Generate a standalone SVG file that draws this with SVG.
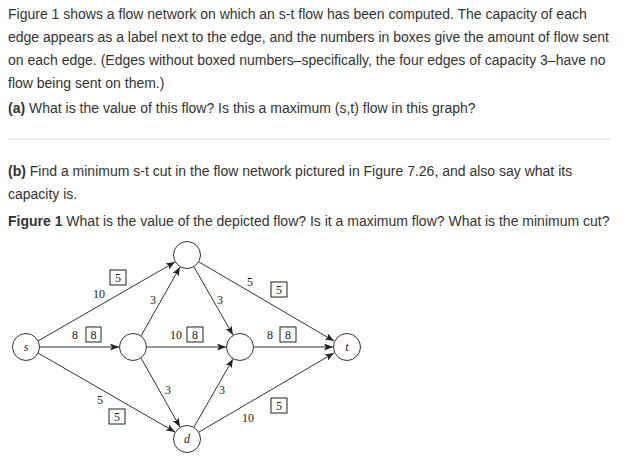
<svg xmlns="http://www.w3.org/2000/svg" width="631" height="459" viewBox="0 0 631 459">
<style>
.p{font-family:"Liberation Sans",Arial,sans-serif;font-size:14px;fill:#333}
.b{font-weight:bold}
.g{font-family:"Liberation Serif","Times New Roman",serif;font-size:12px;fill:#222}
.n{fill:#fff;stroke:#333;stroke-width:1}
.e{stroke:#333;stroke-width:1;fill:none;marker-end:url(#a)}
.bx{fill:#fff;stroke:#222;stroke-width:1}
</style>
<defs><marker id="a" markerWidth="9" markerHeight="7" refX="9" refY="3.5" orient="auto" markerUnits="userSpaceOnUse"><path d="M0,0L9,3.5L0,7L2,3.5z" fill="#222"/></marker></defs>
<rect width="631" height="459" fill="#fff"/>
<g id="text">
<text class="p" x="8" y="19">Figure 1 shows a flow network on which an s-t flow has been computed. The capacity of each</text>
<text class="p" x="8" y="42">edge appears as a label next to the edge, and the numbers in boxes give the amount of flow sent</text>
<text class="p" x="8" y="65">on each edge. (Edges without boxed numbers–specifically, the four edges of capacity 3–have no</text>
<text class="p" x="8" y="88">flow being sent on them.)</text>
<text class="p" x="8" y="113"><tspan class="b">(a)</tspan> What is the value of this flow? Is this a maximum (s,t) flow in this graph?</text>
<line x1="8" y1="139" x2="611" y2="139" stroke="#ddd"/>
<text class="p" x="8" y="176"><tspan class="b">(b)</tspan> Find a minimum s-t cut in the flow network pictured in Figure 7.26, and also say what its</text>
<text class="p" x="8" y="199">capacity is.</text>
<text class="p" x="8" y="226"><tspan class="b">Figure 1</tspan> What is the value of the depicted flow? Is it a maximum flow? What is the minimum cut?</text>
</g>
<g id="connectors">
<line class="e" x1="38" y1="341" x2="175" y2="262"/>
<line class="e" x1="40" y1="347" x2="119" y2="347"/>
<line class="e" x1="38" y1="353" x2="175" y2="432"/>
<line class="e" x1="141" y1="336" x2="180" y2="267"/>
<line class="e" x1="147" y1="347" x2="226" y2="347"/>
<line class="e" x1="141" y1="358" x2="180" y2="427"/>
<line class="e" x1="194" y1="267" x2="233" y2="335"/>
<line class="e" x1="199" y1="262" x2="334" y2="341"/>
<line class="e" x1="254" y1="347" x2="333" y2="347"/>
<line class="e" x1="194" y1="427" x2="233" y2="359"/>
<line class="e" x1="199" y1="432" x2="334" y2="353"/>
</g>
<g id="labels">
<rect class="bx" x="110" y="270" width="16" height="15"/><text class="g" x="118" y="282" text-anchor="middle">5</text>
<text class="g" x="99" y="298" text-anchor="middle">10</text>
<text class="g" x="75" y="339" text-anchor="middle">8</text>
<rect class="bx" x="86" y="327" width="15" height="15"/><text class="g" x="93.5" y="339" text-anchor="middle">8</text>
<text class="g" x="153" y="304" text-anchor="middle">3</text>
<text class="g" x="176" y="339" text-anchor="middle">10</text>
<rect class="bx" x="187" y="327" width="16" height="15"/><text class="g" x="195" y="339" text-anchor="middle">8</text>
<text class="g" x="220" y="304" text-anchor="middle">3</text>
<text class="g" x="250" y="286" text-anchor="middle">5</text>
<rect class="bx" x="271" y="282" width="16" height="15"/><text class="g" x="279" y="294" text-anchor="middle">5</text>
<text class="g" x="270" y="339" text-anchor="middle">8</text>
<rect class="bx" x="280" y="327" width="16" height="15"/><text class="g" x="288" y="339" text-anchor="middle">8</text>
<text class="g" x="168" y="394" text-anchor="middle">3</text>
<text class="g" x="222" y="394" text-anchor="middle">3</text>
<text class="g" x="100" y="404" text-anchor="middle">5</text>
<rect class="bx" x="109" y="409" width="16" height="15"/><text class="g" x="117" y="421" text-anchor="middle">5</text>
<text class="g" x="248" y="422" text-anchor="middle">10</text>
<rect class="bx" x="271" y="398" width="16" height="15"/><text class="g" x="279" y="410" text-anchor="middle">5</text>
</g>
<g id="s"><circle class="n" cx="26" cy="347" r="13.5"/><text class="g" x="26" y="351" text-anchor="middle" font-style="italic">s</text></g>
<g id="top"><circle class="n" cx="187" cy="255" r="13.5"/></g>
<g id="ml"><circle class="n" cx="133" cy="347" r="13.5"/></g>
<g id="mr"><circle class="n" cx="240" cy="347" r="13.5"/></g>
<g id="t"><circle class="n" cx="347" cy="347" r="13.5"/><text class="g" x="347" y="351" text-anchor="middle" font-style="italic">t</text></g>
<g id="d"><circle class="n" cx="187" cy="439" r="13.5"/><text class="g" x="187" y="443" text-anchor="middle" font-style="italic">d</text></g>
</svg>
